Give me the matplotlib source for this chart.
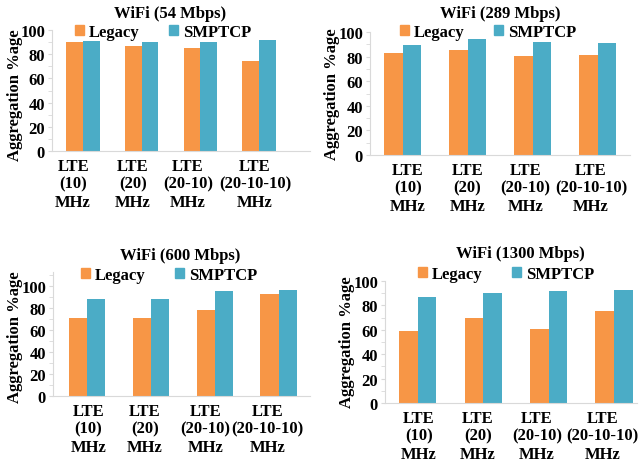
import matplotlib
matplotlib.use("Agg")
import matplotlib.pyplot as plt
from matplotlib.patches import Patch
from matplotlib.ticker import MultipleLocator

plt.rcParams["font.family"] = ["Liberation Serif", "DejaVu Serif"]
plt.rcParams["font.weight"] = "bold"
plt.rcParams["font.size"] = 12

# Данні
categories = ["LTE\n(10)\nMHz", "LTE\n(20)\nMHz", "LTE\n(20-10)\nMHz", "LTE\n(20-10-10)\nMHz"]
titles = ["WiFi (54 Mbps)", "WiFi (289 Mbps)", "WiFi (600 Mbps)", "WiFi (1300 Mbps)"]
legacy_54 = [90.3, 86.7, 85.4, 74.0]
smptcp_54 = [90.9, 90.3, 90.3, 91.7]
legacy_289 = [83.3, 85.5, 80.8, 81.1]
smptcp_289 = [89.3, 94.2, 92.0, 90.7]
legacy_600 = [70.9, 70.9, 77.9, 92.4]
smptcp_600 = [88.5, 87.9, 95.8, 96.7]
legacy_1300 = [58.8, 70.0, 60.7, 75.8]
smptcp_1300 = [86.8, 89.8, 92.0, 92.6]

legacy_all = [legacy_54, legacy_289, legacy_600, legacy_1300]
smptcp_all = [smptcp_54, smptcp_289, smptcp_600, smptcp_1300]

ORANGE = "#F79646"
TEAL = "#4BACC6"
W, H = 639, 464

# розмітка панелей у пікселях: left, right, bottom, top, ymax, xlim
panels = [
    (52, 310, 152, 31, 100, (-0.53, 3.87)),
    (370, 630, 156, 33, 100, (-0.5, 3.5)),
    (53, 310, 397, 273, 112.7, (-0.53, 3.49)),
    (385, 637, 404, 282, 100, (-0.5, 3.35)),
]
# підписи осі x трохи зсунуті відносно стовпців, як в оригіналі
label_x = [
    [-0.17, 0.85, 1.79, 2.93],
    [0.08, 1.0, 1.89, 2.90],
    [0.02, 0.91, 1.85, 2.83],
    [0.02, 0.92, 1.82, 2.82],
]
title_pos = [(170, 14), (500, 14), (180, 256), (520, 254)]
legend_pos = [(163, 33), (488, 33), (169, 276), (506, 275)]
ylabel_pos = [(15, 95), (332, 94), (15, 337), (347, 342)]

fig = plt.figure(figsize=(W / 100, H / 100), dpi=100)
bw = 0.285

for i in range(4):
    left, right, bottom, top, ymax, xl = panels[i]
    ax = fig.add_axes([left / W, (H - bottom) / H, (right - left) / W, (bottom - top) / H])
    x = list(range(len(categories)))
    ax.bar([v - bw / 2 for v in x], legacy_all[i], bw, color=ORANGE)
    ax.bar([v + bw / 2 for v in x], smptcp_all[i], bw, color=TEAL)
    ax.set_xlim(*xl)
    ax.set_ylim(0, ymax)
    ax.set_yticks([0, 20, 40, 60, 80, 100])
    ax.yaxis.set_minor_locator(MultipleLocator(10))
    ax.set_xticks(label_x[i])
    ax.set_xticklabels(categories, linespacing=1.15)
    ax.tick_params(axis="x", length=0, pad=5)
    ax.tick_params(axis="y", which="both", length=3, color="#d9d9d9", pad=2)
    for s in ["top", "right"]:
        ax.spines[s].set_visible(False)
    for s in ["left", "bottom"]:
        ax.spines[s].set_color("#d9d9d9")

    tx, ty = title_pos[i]
    fig.text(tx / W, 1 - ty / H, titles[i], ha="center", va="center", fontsize=12)
    yx, yy = ylabel_pos[i]
    fig.text(yx / W, 1 - yy / H, "Aggregation %age", rotation=90, ha="center", va="center", fontsize=12)
    lx, ly = legend_pos[i]
    fig.legend(handles=[Patch(color=ORANGE, label="Legacy"), Patch(color=TEAL, label="SMPTCP")],
               loc="center", bbox_to_anchor=(lx / W, 1 - ly / H), ncol=2, frameon=False,
               handlelength=0.55, handleheight=0.55, handletextpad=0.25, columnspacing=1.8,
               borderpad=0, fontsize=12)

fig.savefig("out.png", dpi=100)
